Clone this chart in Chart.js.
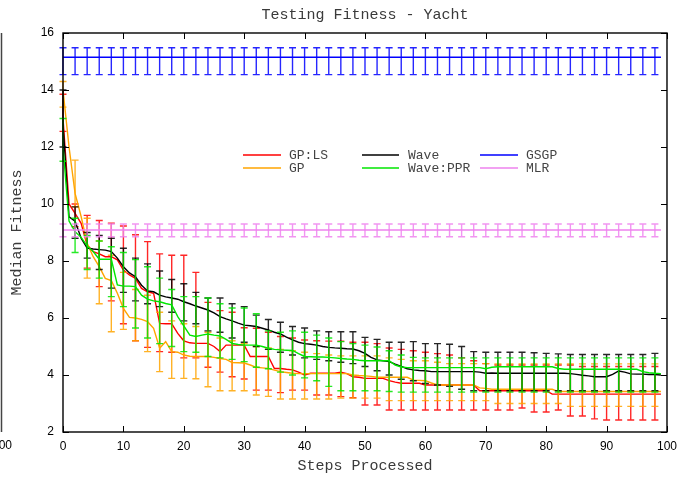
<!DOCTYPE html>
<html><head><meta charset="utf-8">
<script src="https://cdn.jsdelivr.net/npm/chart.js@4.4.1/dist/chart.umd.min.js"></script>
<style>html,body{margin:0;padding:0;background:#fff;}canvas{display:block;}</style>
</head><body>
<canvas id="c" width="684" height="477"></canvas>
<script>
// ---------- data ----------
const steps = Array.from({length: 100}, (_, i) => i);          // 0..99
const errSteps = Array.from({length: 50}, (_, i) => i * 2);     // 0,2,...,98
const flatSteps = [0, 99];

const xTicks = [0, 10, 20, 30, 40, 50, 60, 70, 80, 90, 100];
const yTicks = [2, 4, 6, 8, 10, 12, 14, 16];

const gpls = [13.0, 10.0, 9.67, 9.32, 8.56, 8.33, 8.25, 8.15, 8.15, 8.04,
  7.68, 7.51, 7.39, 7.04, 6.92, 6.87, 5.81, 5.8, 5.8, 5.46,
  5.2, 5.13, 5.11, 5.11, 5.11, 5.0, 4.82, 5.05, 5.05, 5.05,
  5.05, 4.65, 4.65, 4.65, 4.65, 4.23, 4.23, 4.2, 4.18, 4.1,
  4.0, 4.06, 4.06, 4.06, 4.06, 4.06, 4.1, 4.05, 3.94, 3.92,
  3.88, 3.88, 3.88, 3.88, 3.8, 3.75, 3.71, 3.71, 3.71, 3.71,
  3.65, 3.65, 3.65, 3.65, 3.65, 3.65, 3.65, 3.65, 3.65, 3.45,
  3.45, 3.45, 3.45, 3.45, 3.45, 3.45, 3.45, 3.45, 3.45, 3.45,
  3.45, 3.33, 3.33, 3.33, 3.33, 3.33, 3.33, 3.33, 3.33, 3.33,
  3.33, 3.33, 3.33, 3.33, 3.33, 3.33, 3.33, 3.33, 3.33, 3.33];

const gp = [14.0, 12.0, 10.37, 9.56, 8.62, 8.15, 7.8, 7.39, 7.31, 6.87,
  6.34, 6.02, 6.0, 5.95, 5.87, 5.64, 4.94, 5.17, 4.82, 4.8,
  4.7, 4.66, 4.65, 4.65, 4.65, 4.62, 4.58, 4.55, 4.44, 4.43,
  4.42, 4.35, 4.27, 4.25, 4.23, 4.17, 4.12, 4.09, 4.06, 4.05,
  4.05, 4.05, 4.05, 4.05, 4.05, 4.05, 4.05, 4.05, 4.0, 3.98,
  3.97, 3.95, 3.92, 3.92, 3.92, 3.92, 3.92, 3.92, 3.82, 3.81,
  3.8, 3.72, 3.65, 3.65, 3.65, 3.65, 3.65, 3.65, 3.65, 3.55,
  3.53, 3.5, 3.5, 3.5, 3.5, 3.5, 3.5, 3.5, 3.5, 3.5,
  3.5, 3.5, 3.42, 3.42, 3.42, 3.42, 3.42, 3.42, 3.42, 3.42,
  3.42, 3.42, 3.42, 3.42, 3.42, 3.42, 3.42, 3.42, 3.42, 3.42];

const wave = [12.8, 9.55, 9.4, 8.8, 8.45, 8.42, 8.4, 8.38, 8.33, 8.1,
  7.8, 7.58, 7.45, 7.15, 6.95, 6.92, 6.8, 6.74, 6.7, 6.66,
  6.57, 6.5, 6.42, 6.35, 6.28, 6.18, 6.05, 5.97, 5.9, 5.82,
  5.75, 5.73, 5.7, 5.64, 5.58, 5.5, 5.44, 5.33, 5.23, 5.15,
  5.1, 5.08, 5.05, 5.0, 4.97, 4.95, 4.94, 4.92, 4.91, 4.85,
  4.76, 4.62, 4.53, 4.5, 4.47, 4.38, 4.3, 4.22, 4.18, 4.16,
  4.15, 4.12, 4.12, 4.12, 4.12, 4.12, 4.12, 4.12, 4.12, 4.1,
  4.06, 4.07, 4.06, 4.06, 4.06, 4.06, 4.06, 4.06, 4.06, 4.06,
  4.06, 4.06, 4.06, 4.06, 4.05, 4.02, 3.99, 3.97, 3.94, 3.94,
  3.94, 4.02, 4.14, 4.1, 4.04, 4.03, 4.03, 4.02, 4.02, 4.0];

const ppr = [12.0, 9.4, 9.03, 8.83, 8.53, 8.33, 8.06, 8.06, 8.06, 7.16,
  7.12, 7.12, 7.1, 6.8, 6.66, 6.6, 6.57, 6.51, 6.46, 6.05,
  5.72, 5.4, 5.35, 5.4, 5.44, 5.4, 5.37, 5.25, 5.11, 5.07,
  5.05, 5.05, 5.05, 5.0, 4.94, 4.9, 4.88, 4.87, 4.86, 4.75,
  4.65, 4.64, 4.63, 4.63, 4.62, 4.6, 4.58, 4.56, 4.55, 4.52,
  4.5, 4.5, 4.5, 4.5, 4.5, 4.35, 4.28, 4.26, 4.26, 4.26,
  4.26, 4.26, 4.26, 4.26, 4.26, 4.26, 4.26, 4.26, 4.26, 4.26,
  4.22, 4.27, 4.29, 4.29, 4.29, 4.29, 4.29, 4.29, 4.29, 4.29,
  4.29, 4.29, 4.23, 4.2, 4.2, 4.2, 4.2, 4.2, 4.2, 4.2,
  4.2, 4.2, 4.2, 4.2, 4.2, 4.2, 4.12, 4.08, 4.06, 4.05];

const gsgpLine = [15.15, 15.15];
const mlrLine = [9.09, 9.09];

// error bars at even steps (upper / lower)
const gplsHi = [13.85, 10.0, 9.6, 9.42, 9.33, 9.23, 8.92, 8.68, 8.25, 8.2,
  8.2, 7.6, 6.55, 6.26, 6.2, 5.66, 5.64, 5.5, 5.35, 5.3,
  5.23, 5.2, 5.19, 5.19, 5.15, 5.15, 5.1, 4.95, 4.9, 4.85,
  4.8, 4.75, 4.7, 4.6, 4.5, 4.4, 4.35, 4.35, 4.35, 4.35,
  4.35, 4.35, 4.35, 4.3, 4.3, 4.3, 4.3, 4.3, 4.3, 4.3];
const gplsLo = [12.55, 9.2, 7.75, 7.1, 6.6, 5.8, 5.2, 4.97, 4.82, 4.8,
  4.6, 4.6, 4.27, 4.1, 3.94, 3.86, 3.47, 3.47, 3.38, 3.47,
  3.47, 3.3, 3.3, 3.24, 3.2, 2.95, 2.95, 2.77, 2.77, 2.77,
  2.77, 2.77, 2.77, 2.77, 2.77, 2.77, 2.77, 2.77, 2.84, 2.7,
  2.7, 2.77, 2.56, 2.56, 2.46, 2.42, 2.42, 2.42, 2.42, 2.42];

const gpHi = [14.3, 11.54, 9.5, 8.7, 8.2, 7.6, 7.0, 6.8, 6.2, 5.9,
  5.8, 5.7, 5.5, 5.3, 5.2, 5.1, 5.0, 4.95, 4.9, 4.85,
  4.8, 4.75, 4.7, 4.67, 4.67, 4.67, 4.67, 4.6, 4.55, 4.5,
  4.5, 4.45, 4.4, 4.4, 4.4, 4.4, 4.39, 4.39, 4.39, 4.39,
  4.39, 4.39, 4.39, 4.39, 4.39, 4.39, 4.39, 4.39, 4.39, 4.39];
const gpLo = [13.4, 9.9, 7.4, 6.5, 5.52, 5.6, 5.2, 4.82, 4.12, 3.88,
  3.88, 3.87, 3.59, 3.45, 3.45, 3.45, 3.3, 3.25, 3.16, 3.16,
  3.16, 3.16, 3.16, 3.19, 3.19, 3.19, 3.19, 3.1, 3.1, 3.1,
  3.1, 3.1, 3.1, 3.1, 3.1, 3.1, 3.0, 3.0, 3.0, 3.0,
  3.0, 3.0, 2.9, 2.9, 2.9, 2.9, 2.9, 2.9, 2.9, 2.9];

const waveHi = [14.0, 9.9, 9.0, 8.9, 8.8, 8.45, 8.1, 7.9, 7.65, 7.35,
  7.2, 6.9, 6.7, 6.7, 6.5, 6.4, 6.1, 5.95, 5.85, 5.7,
  5.65, 5.55, 5.52, 5.52, 5.52, 5.32, 5.25, 5.15, 5.15, 5.17,
  5.1, 5.1, 5.08, 5.0, 4.82, 4.8, 4.8, 4.8, 4.8, 4.78,
  4.76, 4.74, 4.72, 4.72, 4.72, 4.72, 4.72, 4.72, 4.72, 4.76];
const waveLo = [12.0, 8.8, 8.1, 7.7, 7.05, 6.9, 6.6, 6.5, 6.4, 6.2,
  5.9, 5.8, 5.55, 5.5, 5.3, 5.15, 5.0, 4.9, 4.8, 4.7,
  4.6, 4.55, 4.5, 4.45, 4.4, 4.3, 4.15, 4.0, 3.85, 3.8,
  3.7, 3.65, 3.6, 3.5, 3.45, 3.45, 3.45, 3.45, 3.45, 3.45,
  3.45, 3.45, 3.45, 3.45, 3.45, 3.45, 3.45, 3.45, 3.45, 3.45];

const pprHi = [13.0, 9.5, 8.9, 8.7, 8.5, 8.3, 8.05, 7.8, 7.4, 7.0,
  6.75, 6.75, 6.7, 6.5, 6.35, 6.35, 6.15, 5.55, 5.5, 5.55,
  5.5, 5.4, 5.3, 5.17, 5.1, 5.05, 4.98, 4.85, 4.7, 4.62,
  4.6, 4.6, 4.6, 4.6, 4.6, 4.6, 4.6, 4.6, 4.6, 4.6,
  4.6, 4.6, 4.6, 4.6, 4.6, 4.6, 4.6, 4.6, 4.6, 4.6];
const pprLo = [11.5, 8.3, 7.7, 7.4, 6.75, 6.4, 5.65, 5.3, 5.1, 5.0,
  4.82, 4.8, 4.65, 4.6, 4.55, 4.47, 4.27, 4.22, 4.1, 4.0,
  3.9, 3.8, 3.6, 3.45, 3.45, 3.45, 3.45, 3.42, 3.4, 3.4,
  3.4, 3.4, 3.4, 3.4, 3.4, 3.4, 3.4, 3.4, 3.4, 3.4,
  3.4, 3.4, 3.4, 3.4, 3.4, 3.4, 3.4, 3.4, 3.4, 3.4];

const gsgpHi = [15.48, 15.48, 15.48, 15.48, 15.48, 15.48, 15.48, 15.48, 15.48, 15.48,
  15.48, 15.48, 15.48, 15.48, 15.48, 15.48, 15.48, 15.48, 15.48, 15.48,
  15.48, 15.48, 15.48, 15.48, 15.48, 15.48, 15.48, 15.48, 15.48, 15.48,
  15.48, 15.48, 15.48, 15.48, 15.48, 15.48, 15.48, 15.48, 15.48, 15.48,
  15.48, 15.48, 15.48, 15.48, 15.48, 15.48, 15.48, 15.48, 15.48, 15.48];
const gsgpLo = [14.54, 14.54, 14.54, 14.54, 14.54, 14.54, 14.54, 14.54, 14.54, 14.54,
  14.54, 14.54, 14.54, 14.54, 14.54, 14.54, 14.54, 14.54, 14.54, 14.54,
  14.54, 14.54, 14.54, 14.54, 14.54, 14.54, 14.54, 14.54, 14.54, 14.54,
  14.54, 14.54, 14.54, 14.54, 14.54, 14.54, 14.54, 14.54, 14.54, 14.54,
  14.54, 14.54, 14.54, 14.54, 14.54, 14.54, 14.54, 14.54, 14.54, 14.54];
const mlrHi = [9.3, 9.3, 9.3, 9.3, 9.3, 9.3, 9.3, 9.3, 9.3, 9.3,
  9.3, 9.3, 9.3, 9.3, 9.3, 9.3, 9.3, 9.3, 9.3, 9.3,
  9.3, 9.3, 9.3, 9.3, 9.3, 9.3, 9.3, 9.3, 9.3, 9.3,
  9.3, 9.3, 9.3, 9.3, 9.3, 9.3, 9.3, 9.3, 9.3, 9.3,
  9.3, 9.3, 9.3, 9.3, 9.3, 9.3, 9.3, 9.3, 9.3, 9.3];
const mlrLo = [8.85, 8.85, 8.85, 8.85, 8.85, 8.85, 8.85, 8.85, 8.85, 8.85,
  8.85, 8.85, 8.85, 8.85, 8.85, 8.85, 8.85, 8.85, 8.85, 8.85,
  8.85, 8.85, 8.85, 8.85, 8.85, 8.85, 8.85, 8.85, 8.85, 8.85,
  8.85, 8.85, 8.85, 8.85, 8.85, 8.85, 8.85, 8.85, 8.85, 8.85,
  8.85, 8.85, 8.85, 8.85, 8.85, 8.85, 8.85, 8.85, 8.85, 8.85];

const seriesNames = ['GP:LS', 'GP', 'Wave', 'Wave:PPR', 'GSGP', 'MLR'];
const seriesColors = ['#ff0000', '#ffa500', '#000000', '#00e600', '#0000ff', '#ee82ee'];

// ---------- chart ----------
const pts = (xs, ys) => xs.map((s, i) => ({x: s, y: ys[i]}));

const lines = [
  {x: steps, y: gpls, hi: gplsHi, lo: gplsLo},
  {x: steps, y: gp, hi: gpHi, lo: gpLo},
  {x: steps, y: wave, hi: waveHi, lo: waveLo},
  {x: steps, y: ppr, hi: pprHi, lo: pprLo},
  {x: flatSteps, y: gsgpLine, hi: gsgpHi, lo: gsgpLo},
  {x: flatSteps, y: mlrLine, hi: mlrHi, lo: mlrLo}
];

const datasets = lines.map((l, i) => ({
  label: seriesNames[i],
  data: pts(l.x, l.y),
  borderColor: seriesColors[i],
  backgroundColor: seriesColors[i],
  borderWidth: 1.4,
  pointRadius: 0,
  tension: 0,
  fill: false,
  order: 5 - i,
  err: {x: errSteps, hi: l.hi, lo: l.lo}
}));

const MONO = '"Liberation Mono", "DejaVu Sans Mono", monospace';
const SANS = '"Liberation Sans", Arial, sans-serif';

const decor = {
  id: 'decor',
  afterDatasetDraw(chart, args) {
    const ds = chart.data.datasets[args.index];
    if (!ds.err) return;
    const {ctx} = chart;
    const xs = chart.scales.x, ys = chart.scales.y;
    ctx.save();
    ctx.strokeStyle = ds.borderColor;
    ctx.globalAlpha = 0.85;
    ctx.lineWidth = 1.4;
    ctx.beginPath();
    ds.err.x.forEach((s, i) => {
      const px = xs.getPixelForValue(s);
      const t = ys.getPixelForValue(ds.err.hi[i]);
      const b = ys.getPixelForValue(ds.err.lo[i]);
      ctx.moveTo(px, t); ctx.lineTo(px, b);
      ctx.moveTo(px - 3.5, t); ctx.lineTo(px + 3.5, t);
      ctx.moveTo(px - 3.5, b); ctx.lineTo(px + 3.5, b);
    });
    ctx.stroke();
    ctx.restore();
  },
  afterDraw(chart) {
    const {ctx, chartArea: a} = chart;
    const xs = chart.scales.x, ys = chart.scales.y;
    ctx.save();
    // frame
    ctx.strokeStyle = '#000';
    ctx.lineWidth = 1.4;
    ctx.strokeRect(a.left, a.top, a.right - a.left, a.bottom - a.top);
    // inward ticks
    ctx.lineWidth = 1;
    ctx.beginPath();
    xTicks.forEach(v => {
      const p = Math.round(xs.getPixelForValue(v)) + 0.5;
      ctx.moveTo(p, a.bottom); ctx.lineTo(p, a.bottom - 6);
      ctx.moveTo(p, a.top); ctx.lineTo(p, a.top + 6);
    });
    yTicks.forEach(v => {
      const p = Math.round(ys.getPixelForValue(v)) + 0.5;
      ctx.moveTo(a.left, p); ctx.lineTo(a.left + 6, p);
      ctx.moveTo(a.right, p); ctx.lineTo(a.right - 6, p);
    });
    ctx.stroke();

    // titles
    const cx = (a.left + a.right) / 2;
    ctx.fillStyle = '#3a3a3a';
    ctx.font = '15px ' + MONO;
    ctx.textAlign = 'center';
    ctx.textBaseline = 'middle';
    ctx.fillText('Testing Fitness - Yacht', cx, 15);
    ctx.fillText('Steps Processed', cx, 466);
    ctx.save();
    ctx.translate(17, (a.top + a.bottom) / 2);
    ctx.rotate(-Math.PI / 2);
    ctx.fillText('Median Fitness', 0, 0);
    ctx.restore();

    // legend
    const cols = [[243, 281, 289], [362, 399, 408], [480, 518, 526]];
    const rows = [155, 168];
    ctx.font = '13px ' + MONO;
    ctx.textAlign = 'left';
    ctx.lineWidth = 1.5;
    seriesNames.forEach((n, i) => {
      const c = cols[Math.floor(i / 2)], r = rows[i % 2];
      ctx.strokeStyle = seriesColors[i];
      ctx.beginPath();
      ctx.moveTo(c[0], r); ctx.lineTo(c[1], r);
      ctx.stroke();
      ctx.fillStyle = '#444';
      ctx.fillText(n, c[2], r + 1);
    });

    // fragment of neighbouring panel at the left edge
    ctx.strokeStyle = '#444';
    ctx.lineWidth = 1.5;
    ctx.beginPath();
    ctx.moveTo(1.5, a.top); ctx.lineTo(1.5, a.bottom);
    ctx.stroke();
    ctx.fillStyle = '#000';
    ctx.font = '12px ' + SANS;
    ctx.textAlign = 'right';
    ctx.fillText('100', 12, 446);
    ctx.restore();
  }
};

new Chart(document.getElementById('c'), {
  type: 'line',
  data: {datasets},
  options: {
    responsive: false,
    animation: false,
    devicePixelRatio: 1,
    layout: {padding: {top: 33, right: 15, left: 0, bottom: 0}},
    plugins: {legend: {display: false}, title: {display: false}, tooltip: {enabled: false}},
    scales: {
      x: {
        type: 'linear', min: 0, max: 100,
        afterBuildTicks: s => { s.ticks = xTicks.map(v => ({value: v})); },
        ticks: {autoSkip: false, maxRotation: 0, padding: 7, color: '#000', font: {family: SANS, size: 12}},
        grid: {display: false, drawTicks: false},
        border: {display: false},
        afterFit: s => { s.height = 45; }
      },
      y: {
        type: 'linear', min: 2, max: 16,
        afterBuildTicks: s => { s.ticks = yTicks.map(v => ({value: v})); },
        ticks: {padding: 9, color: '#000', font: {family: SANS, size: 12}},
        grid: {display: false, drawTicks: false},
        border: {display: false},
        afterFit: s => { s.height = undefined; s.width = 63; }
      }
    }
  },
  plugins: [decor]
});
</script>
</body></html>
